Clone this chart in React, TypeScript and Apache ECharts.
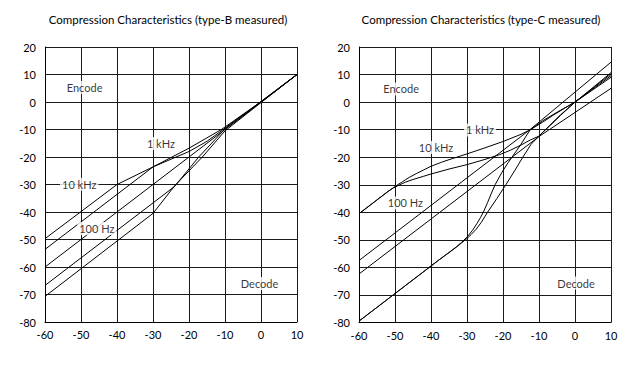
import React, { useEffect, useRef } from "react";
import * as echarts from "echarts";

// ---------- Data (levels in dB: [input, output]) ----------
const xTicksMin = -60;
const xTicksMax = 10;
const yTicksMin = -80;
const yTicksMax = 20;

const titleB = "Compression Characteristics (type-B measured)";
const titleC = "Compression Characteristics (type-C measured)";

// type-B
const bEncode10k = [[-60, -49.7], [-40, -30], [-30, -23.6], [-20, -18], [-15, -14.3], [-10.5, -10], [0, 0.2], [10, 10]];
const bEncode1k = [[-60, -53.6], [-30, -23.6], [-20, -16.8], [-11, -10], [0, 0.1], [10, 10]];
const b100Hz = [[-60, -60], [10, 10]];
const bDecode1k = [[-60, -66.7], [-24, -30.7], [-17.3, -20], [-10, -9.8], [0, -0.1], [10, 10]];
const bDecode10k = [[-60, -70.7], [-30, -40.5], [-24, -30.5], [-16.3, -20], [-10, -10.5], [0, -0.2], [10, 10]];

// type-C
const cEncodeA = [[-60, -40.5], [-52, -32.5], [-50.5, -31.1], [-49, -29.8], [-48, -29.0], [-47, -28.1], [-46, -27.3], [-45, -26.6], [-44, -25.9], [-42, -24.6], [-40, -23.3], [-37, -21.8], [-35, -20.9], [-30, -18.8], [-25, -16.6], [-20, -14.3], [-15, -11.7], [-12.5, -10.1], [-9, -7.3], [-6, -4.7], [-3, -2.3], [0, 0], [5, 5.3], [10, 10.7]];
const cEncodeB = [[-60, -40.5], [-52, -32.5], [-50.5, -31.2], [-49, -30.2], [-48, -29.6], [-47, -29.0], [-45, -28.1], [-42, -26.9], [-40, -26.1], [-35, -24.3], [-30, -22.7], [-25, -20.8], [-21, -19.1], [-18, -17.5], [-15, -15.6], [-12.5, -13.8], [-10.1, -12.4], [-7, -8.6], [-4, -4.8], [0, 0], [10, 10.2]];
const cEncode100 = [[-60, -57.5], [-12.5, -10], [10, 14.5]];
const cDecode100 = [[-60, -62.4], [-10, -12.5], [10, 5]];
const cDecodeA = [[-60, -79.5], [-38, -57.5], [-35, -54.6], [-33, -52.7], [-31.5, -51.1], [-30, -49.5], [-28.8, -48.0], [-27.5, -46.2], [-26, -43.6], [-24.3, -40], [-21.7, -35], [-19.2, -30], [-16.8, -25], [-14.5, -20], [-12.2, -15.3], [-10.1, -12.5], [-7, -8.4], [-4, -4.6], [0, 0], [10, 9.0]];
const cDecodeB = [[-60, -79.5], [-38, -57.5], [-35, -54.6], [-33, -52.6], [-31.5, -50.9], [-30, -49.0], [-28.5, -46.6], [-27.2, -44], [-26.2, -41.8], [-25.3, -39.5], [-24.3, -36.5], [-23.2, -33], [-22.2, -30], [-20.3, -25.5], [-18.6, -22], [-17.5, -20], [-15, -15.3], [-12.5, -10.1], [-9, -6.8], [-5, -3.7], [0, 0], [10, 9.6]];

// annotation labels: [x, y, text]
const bLabels = [[-49, 5.3, "Encode"], [-27.8, -15.1, "1 kHz"], [-50.5, -29.9, "10 kHz"], [-45.6, -46, "100 Hz"], [-0.4, -66, "Decode"]];
const cLabels = [[-48.3, 4.8, "Encode"], [-26.4, -10.1, "1 kHz"], [-38.6, -16.5, "10 kHz"], [-47.1, -36.6, "100 Hz"], [0.3, -65.7, "Decode"]];

const FONT = "Lato, 'Noto Sans', sans-serif";

export default function App() {
  const ref = useRef<HTMLDivElement>(null);

  useEffect(() => {
    if (!ref.current) return;
    const chart = echarts.init(ref.current, null, { renderer: "svg" });

    const gridLine = { show: true, lineStyle: { color: "#1a1a1a", width: 1 } };
    const mkX = (gi: number) => ({
      type: "value",
      gridIndex: gi,
      min: xTicksMin,
      max: xTicksMax,
      interval: 10,
      axisLine: { show: true, onZero: false, lineStyle: { color: "#000", width: 1 } },
      axisTick: { show: false },
      axisLabel: { color: "#000", fontSize: 11, fontFamily: FONT, margin: 7 },
      splitLine: gridLine,
    });
    const mkY = (gi: number) => ({
      type: "value",
      gridIndex: gi,
      min: yTicksMin,
      max: yTicksMax,
      interval: 10,
      axisLine: { show: true, onZero: false, lineStyle: { color: "#000", width: 1 } },
      axisTick: { show: false },
      axisLabel: { color: "#000", fontSize: 11, fontFamily: FONT, margin: 9 },
      splitLine: gridLine,
    });

    const line = (data: number[][], gi: number) => ({
      type: "line",
      xAxisIndex: gi,
      yAxisIndex: gi,
      data,
      showSymbol: false,
      symbol: "none",
      smooth: false,
      lineStyle: { color: "#000", width: 1 },
      z: 3,
      silent: true,
    });

    const labels = (data: (number | string)[][], gi: number) => ({
      type: "scatter",
      xAxisIndex: gi,
      yAxisIndex: gi,
      data,
      symbolSize: 0,
      z: 6,
      silent: true,
      label: {
        show: true,
        position: "inside",
        formatter: (p: any) => p.value[2],
        color: "#000",
        fontSize: 11,
        fontFamily: FONT,
        backgroundColor: "#fff",
        padding: [1, 2],
      },
    });

    chart.setOption({
      animation: false,
      backgroundColor: "#fff",
      grid: [
        { left: 45, top: 47, width: 252, height: 275 },
        { left: 359, top: 47, width: 252, height: 275.5 },
      ],
      xAxis: [mkX(0), mkX(1)],
      yAxis: [mkY(0), mkY(1)],
      title: [
        { text: titleB, left: 168, top: 13, textAlign: "center", padding: 0, textStyle: { fontSize: 11.5, fontWeight: "normal", fontFamily: FONT, color: "#000" } },
        { text: titleC, left: 481, top: 13, textAlign: "center", padding: 0, textStyle: { fontSize: 11.5, fontWeight: "normal", fontFamily: FONT, color: "#000" } },
      ],
      series: [
        line(bEncode10k, 0),
        line(bEncode1k, 0),
        line(b100Hz, 0),
        line(bDecode1k, 0),
        line(bDecode10k, 0),
        line(cEncodeA, 1),
        line(cEncodeB, 1),
        line(cEncode100, 1),
        line(cDecode100, 1),
        line(cDecodeA, 1),
        line(cDecodeB, 1),
        labels(bLabels, 0),
        labels(cLabels, 1),
      ],
    });

    return () => chart.dispose();
  }, []);

  return (
    <div
      ref={ref}
      style={{ position: "fixed", left: 0, top: 0, width: 640, height: 370, background: "#fff" }}
    />
  );
}
